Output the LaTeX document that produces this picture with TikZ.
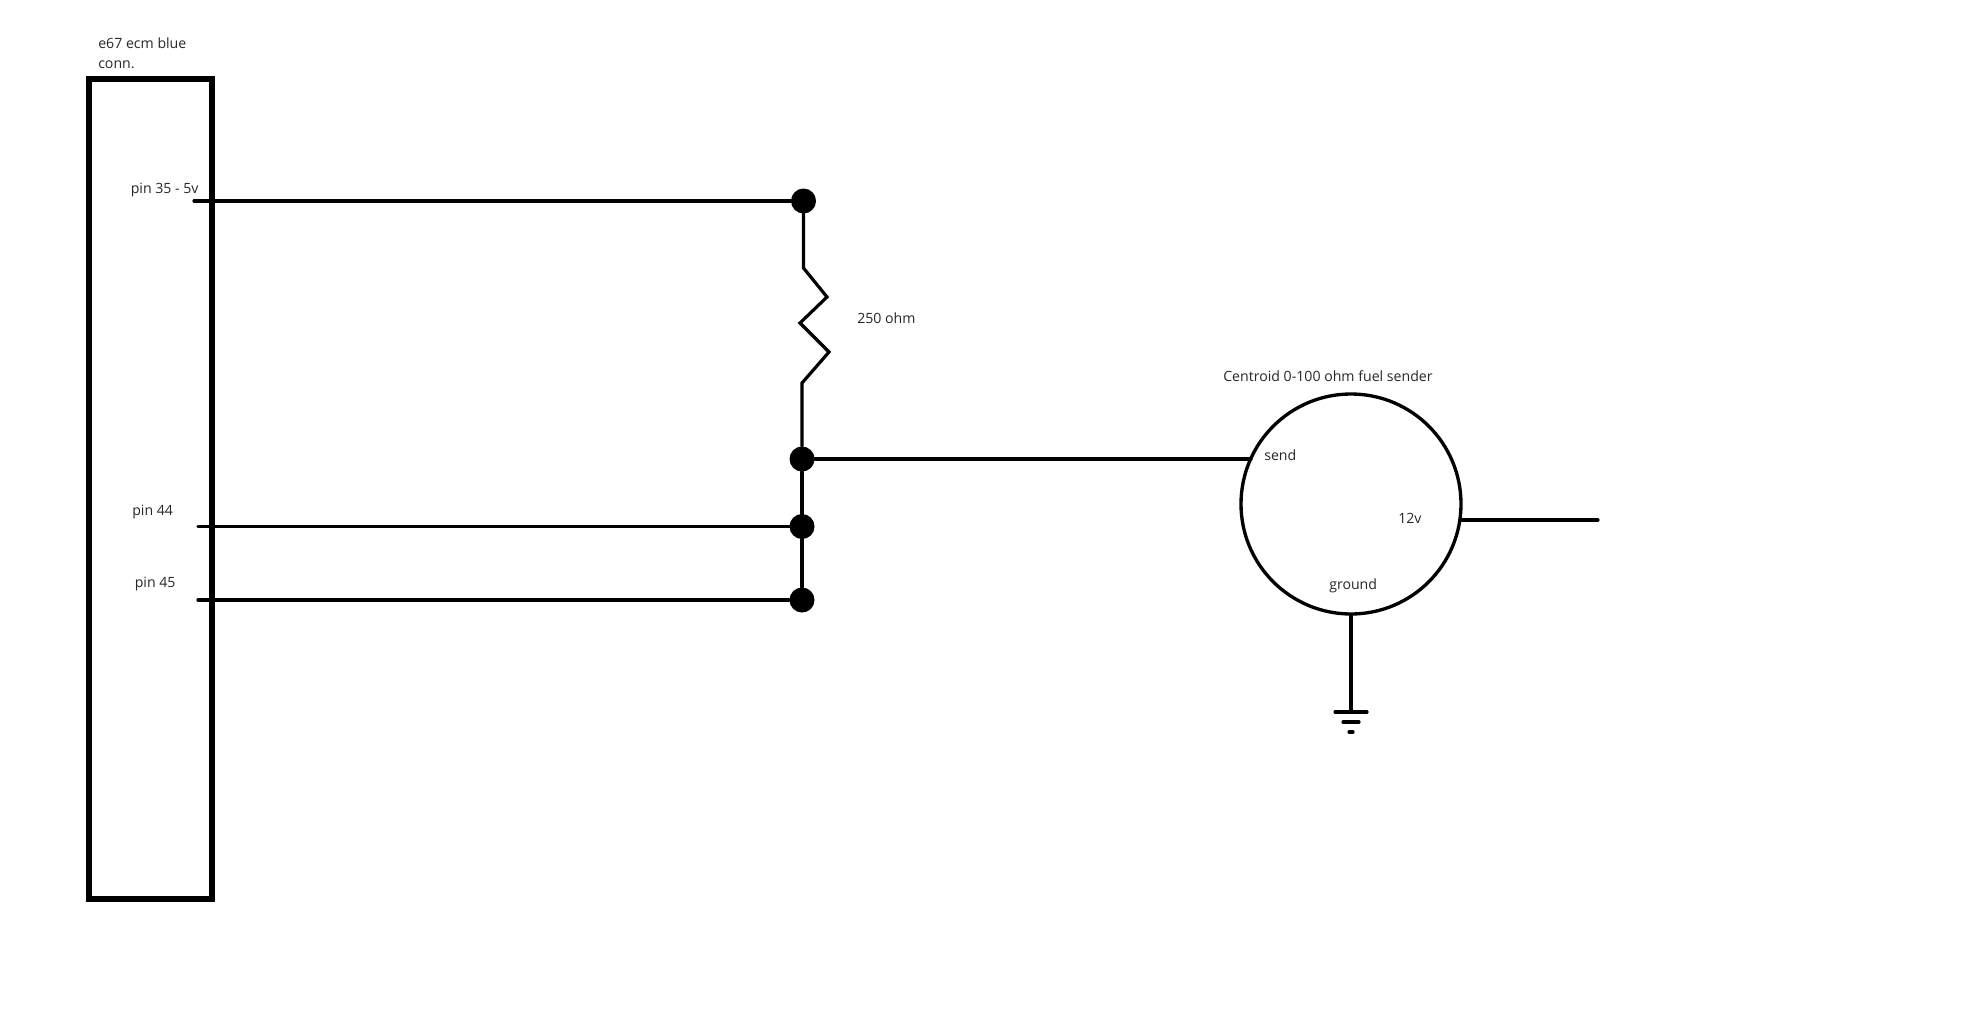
\documentclass[tikz,border=0pt]{standalone}
\usepackage{fontspec}
\setmainfont{Open Sans}
\usepackage{tikz}
\tikzstyle{connector} = [rectangle, draw, line width=4.8pt, minimum width=92.25pt, minimum height=615pt, inner sep=0pt]
\tikzstyle{sender} = [circle, draw, line width=2.5pt, minimum size=165pt, inner sep=0pt]
\tikzstyle{junction} = [circle, fill=black, minimum size=18.75pt, inner sep=0pt]
\tikzstyle{tag} = [anchor=base west, inner sep=0pt, text=black!85, font=\fontsize{10.6}{15.5}\selectfont]
\tikzstyle{wire} = [draw, line width=2.4pt, line cap=round]

\begin{document}
\begin{tikzpicture}[x=0.75pt,y=-0.75pt]
\useasboundingbox (0,0) rectangle (1980,1031);
\node [connector] (ecm) at (150.5,489) {};
\node [sender] (fuel) at (1351,504) {};
\node [junction] (top) at (803.5,201) {};
\node [junction] (mid) at (802,459) {};
\node [junction] (low) at (802,526.5) {};
\node [junction] (bottom) at (802,600) {};
\coordinate (pin35) at (194,201);
\coordinate (pin44) at (198,526.5);
\coordinate (pin45) at (198,600);
\coordinate (r0) at (803.5,268);
\coordinate (r1) at (827,297);
\coordinate (r2) at (800,323);
\coordinate (r3) at (829,352);
\coordinate (r4) at (802,383);
\coordinate (send) at (1251,459);
\coordinate (supply) at (1460,520);
\coordinate (supply-end) at (1598,520);
\coordinate (gnd) at (1351,712);
\node [tag, align=left] (ecm-name) at (98,69) {e67 ecm blue\\conn.};
\node [tag] (pin35-name) at (130.5,193) {pin 35 - 5v};
\node [tag] (pin44-name) at (132,515) {pin 44};
\node [tag] (pin45-name) at (134.5,587) {pin 45};
\node [tag] (ohm-name) at (857,323) {250 ohm};
\node [tag] (fuel-name) at (1223,381) {Centroid 0-100 ohm fuel sender};
\node [tag] (send-name) at (1264,460) {send};
\node [tag] (supply-name) at (1398,523) {12v};
\node [tag] (ground-name) at (1329,589) {ground};
\path [wire] (pin35) -- (top);
\path [wire] (pin44) -- (low);
\path [wire] (pin45) -- (bottom);
\path [wire] (top) -- (r0) -- (r1) -- (r2) -- (r3) -- (r4) -- (mid);
\path [wire] (mid) -- (low);
\path [wire] (low) -- (bottom);
\path [wire] (mid) -- (send);
\path [wire] (supply) -- (supply-end);
\path [wire] (fuel.south) -- (gnd);
\path [wire] (gnd) ++(-16,0) -- ++(32,0);
\path [wire] (gnd) ++(-8,10) -- ++(16,0);
\path [wire] (gnd) ++(-2,20) -- ++(4,0);
\end{tikzpicture}
\end{document}
